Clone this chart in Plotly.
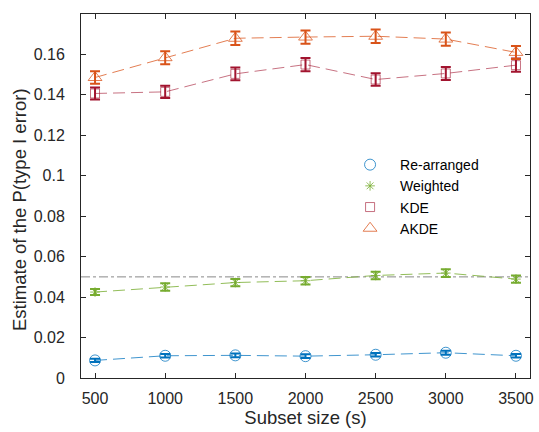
import plotly.graph_objects as go

subset = [500, 1000, 1500, 2000, 2500, 3000, 3500]
rearranged = [0.0087, 0.0110, 0.0112, 0.0108, 0.0115, 0.0125, 0.0110]
rearranged_err = [0.0008, 0.0009, 0.0009, 0.0009, 0.0009, 0.0010, 0.0009]
weighted = [0.0425, 0.0450, 0.0472, 0.0481, 0.0507, 0.0519, 0.0489]
weighted_err = [0.0015, 0.0018, 0.0018, 0.0019, 0.0019, 0.0019, 0.0018]
kde = [0.1407, 0.1415, 0.1504, 0.1550, 0.1476, 0.1506, 0.1547]
kde_err = [0.0030, 0.0030, 0.0032, 0.0033, 0.0031, 0.0032, 0.0033]
akde = [0.1486, 0.1584, 0.1680, 0.1686, 0.1690, 0.1676, 0.1610]
akde_err = [0.0031, 0.0032, 0.0033, 0.0033, 0.0033, 0.0033, 0.0032]
alpha_level = 0.05
y_ticks = [0, 0.02, 0.04, 0.06, 0.08, 0.1, 0.12, 0.14, 0.16]
y_ticklabels = ["0", "0.02", "0.04", "0.06", "0.08", "0.1", "0.12", "0.14", "0.16"]

series = [
    ("Re-arranged", rearranged, rearranged_err, "circle-open", "#0072BD", "rgba(0,114,189,0.75)", 11),
    ("Weighted", weighted, weighted_err, "asterisk-open", "#77AC30", "rgba(119,172,48,0.8)", 8),
    ("KDE", kde, kde_err, "square-open", "#A2142F", "rgba(162,20,47,0.6)", 9),
    ("AKDE", akde, akde_err, "triangle-up-open", "#D95319", "rgba(217,83,25,0.75)", 12),
]

FONT = "Liberation Sans, Arial, sans-serif"

fig = go.Figure()

fig.add_trace(go.Scatter(
    x=[400, 3600], y=[alpha_level, alpha_level], mode="lines",
    line=dict(color="#888888", width=1, dash="dashdot"), showlegend=False, hoverinfo="skip"))

for name, y, err, sym, col, lcol, sz in series:
    fig.add_trace(go.Scatter(
        x=subset, y=y, mode="lines+markers", name=name, showlegend=False,
        line=dict(color=lcol, width=1, dash="12px,6px"),
        marker=dict(symbol=sym, size=sz, color=lcol, line=dict(color=lcol, width=1)),
        error_y=dict(type="data", array=err, visible=True, color=col, thickness=2, width=5),
    ))

for name, y, err, sym, col, lcol, sz in series:
    fig.add_trace(go.Scatter(
        x=[None], y=[None], mode="markers", name=name, showlegend=True,
        marker=dict(symbol=sym, size=sz, color=lcol, line=dict(color=lcol, width=1)),
    ))

axis_common = dict(
    showline=True, linecolor="#262626", linewidth=1, mirror="ticks",
    ticks="inside", ticklen=5, tickcolor="#262626", showgrid=False, zeroline=False,
    tickfont=dict(family=FONT, size=16, color="#262626"),
)

fig.update_xaxes(range=[400, 3600], tickvals=subset, ticktext=[str(v) for v in subset],
                 ticklabelstandoff=6,
                 title=dict(text="Subset size (s)", font=dict(family=FONT, size=18.5, color="#262626"), standoff=0),
                 **axis_common)
fig.update_yaxes(range=[0, 0.18], tickvals=y_ticks, ticktext=y_ticklabels,
                 ticklabelstandoff=12,
                 **axis_common)

fig.add_annotation(text="Estimate of the P(type I error)", textangle=-90,
                   xref="paper", yref="paper", x=-0.138, y=0.4615,
                   xanchor="center", yanchor="middle", showarrow=False,
                   font=dict(family=FONT, size=18.5, color="#262626"))

fig.update_layout(
    width=539, height=432,
    margin=dict(l=81, r=5, t=14, b=54),
    plot_bgcolor="white", paper_bgcolor="white",
    legend=dict(x=0.577, y=0.629, xanchor="left", yanchor="top", bgcolor="rgba(255,255,255,0)",
                font=dict(family=FONT, size=14, color="#000000"),
                itemwidth=50, tracegroupgap=0),
    showlegend=True,
)

fig.write_html("out.html")
